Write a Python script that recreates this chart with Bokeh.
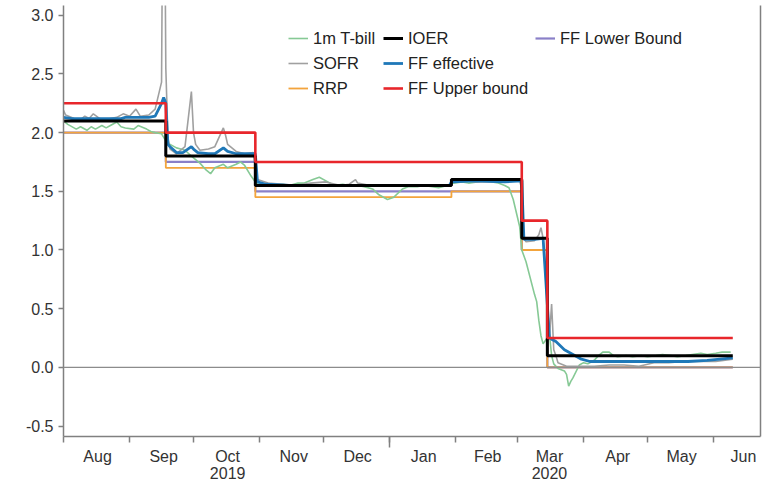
import pandas as pd
from bokeh.plotting import figure
from bokeh.models import (Range1d, LinearAxis, FixedTicker, Span, Legend,
                          LegendItem, PrintfTickFormatter)
from bokeh.embed import file_html
from bokeh.resources import INLINE

# ---------------- data ----------------
policy_dates = ["2019-08-01", "2019-09-18", "2019-10-30", "2020-01-30",
                "2020-03-03", "2020-03-15", "2020-06-10"]
ff_upper = [2.25, 2.00, 1.75, 1.75, 1.25, 0.25, 0.25]
ff_lower = [2.00, 1.75, 1.50, 1.50, 1.00, 0.00, 0.00]
ioer     = [2.10, 1.80, 1.55, 1.60, 1.10, 0.10, 0.10]
rrp      = [2.00, 1.70, 1.45, 1.50, 1.00, 0.00, 0.00]

ffe_dates = ["2019-08-01", "2019-08-05", "2019-08-09", "2019-08-14", "2019-08-19",
             "2019-08-23", "2019-08-28", "2019-08-30", "2019-09-03", "2019-09-06",
             "2019-09-10", "2019-09-13", "2019-09-16", "2019-09-17", "2019-09-18",
             "2019-09-19", "2019-09-20", "2019-09-23", "2019-09-26", "2019-09-30",
             "2019-10-01", "2019-10-03", "2019-10-08", "2019-10-11", "2019-10-15",
             "2019-10-17", "2019-10-21", "2019-10-25", "2019-10-30", "2019-10-31",
             "2019-11-04", "2019-11-15", "2019-12-02", "2019-12-16", "2019-12-31",
             "2020-01-15", "2020-01-29", "2020-01-30", "2020-02-10", "2020-02-24",
             "2020-03-03", "2020-03-04", "2020-03-09", "2020-03-13", "2020-03-16",
             "2020-03-17", "2020-03-19", "2020-03-23", "2020-03-27", "2020-03-31",
             "2020-04-04", "2020-04-15", "2020-04-27", "2020-05-08", "2020-05-20",
             "2020-05-29", "2020-06-04", "2020-06-10"]
ffe_vals = [2.13, 2.12, 2.12, 2.12, 2.12,
            2.12, 2.12, 2.13, 2.13, 2.13,
            2.13, 2.14, 2.25, 2.30, 2.25,
            1.90, 1.88, 1.83, 1.83, 1.88,
            1.86, 1.83, 1.82, 1.82, 1.87,
            1.84, 1.82, 1.82, 1.82, 1.58,
            1.56, 1.55, 1.55, 1.55, 1.55,
            1.55, 1.55, 1.58, 1.59, 1.58,
            1.59, 1.09, 1.09, 1.10, 0.25,
            0.24, 0.22, 0.15, 0.11, 0.07,
            0.05, 0.05, 0.05, 0.05, 0.05,
            0.06, 0.07, 0.08]

sofr_dates = ["2019-08-01", "2019-08-02", "2019-08-06", "2019-08-09", "2019-08-11",
              "2019-08-13", "2019-08-15", "2019-08-18", "2019-08-20", "2019-08-23",
              "2019-08-26", "2019-08-29", "2019-09-01", "2019-09-04", "2019-09-06",
              "2019-09-10", "2019-09-13", "2019-09-16", "2019-09-17", "2019-09-18",
              "2019-09-19", "2019-09-20", "2019-09-23", "2019-09-25", "2019-09-27",
              "2019-09-30", "2019-10-01", "2019-10-02", "2019-10-04", "2019-10-08",
              "2019-10-11", "2019-10-15", "2019-10-16", "2019-10-17", "2019-10-21",
              "2019-10-25", "2019-10-29", "2019-10-31", "2019-11-05", "2019-11-12",
              "2019-11-18", "2019-11-25", "2019-12-02", "2019-12-09", "2019-12-13",
              "2019-12-16", "2019-12-17", "2019-12-23", "2019-12-31", "2020-01-06",
              "2020-01-13", "2020-01-21", "2020-01-29", "2020-01-30", "2020-02-03",
              "2020-02-10", "2020-02-18", "2020-02-24", "2020-03-02", "2020-03-03",
              "2020-03-04", "2020-03-05", "2020-03-09", "2020-03-11", "2020-03-12",
              "2020-03-13", "2020-03-16", "2020-03-17", "2020-03-18", "2020-03-19",
              "2020-03-20", "2020-03-24", "2020-03-27", "2020-04-01", "2020-04-06",
              "2020-04-13", "2020-04-20", "2020-04-27", "2020-05-04", "2020-05-11",
              "2020-05-18", "2020-05-26", "2020-06-02", "2020-06-10"]
sofr_vals = [2.19, 2.15, 2.12, 2.11, 2.14,
             2.12, 2.16, 2.12, 2.11, 2.12,
             2.13, 2.16, 2.14, 2.20, 2.14,
             2.15, 2.20, 2.43, 5.25, 2.55,
             1.95, 1.86, 1.82, 1.85, 1.88,
             2.35, 2.00, 1.90, 1.85, 1.86,
             1.88, 2.04, 1.98, 1.90, 1.84,
             1.82, 1.83, 1.60, 1.57, 1.56,
             1.55, 1.57, 1.58, 1.55, 1.56,
             1.60, 1.57, 1.55, 1.55, 1.55,
             1.55, 1.55, 1.55, 1.58, 1.60,
             1.58, 1.58, 1.58, 1.59, 1.52,
             1.10, 1.07, 1.08, 1.13, 1.19,
             1.10, 0.26, 0.54, 0.15, 0.10,
             0.04, 0.01, 0.01, 0.01, 0.01,
             0.02, 0.02, 0.01, 0.04, 0.04,
             0.05, 0.05, 0.05, 0.07]

tbill_dates = ["2019-08-01", "2019-08-03", "2019-08-07", "2019-08-09", "2019-08-12",
               "2019-08-14", "2019-08-16", "2019-08-19", "2019-08-21", "2019-08-23",
               "2019-08-26", "2019-08-28", "2019-08-30", "2019-09-03", "2019-09-05",
               "2019-09-09", "2019-09-11", "2019-09-13", "2019-09-16", "2019-09-18",
               "2019-09-20", "2019-09-23", "2019-09-25", "2019-09-27", "2019-09-30",
               "2019-10-02", "2019-10-04", "2019-10-07", "2019-10-09", "2019-10-11",
               "2019-10-15", "2019-10-17", "2019-10-21", "2019-10-23", "2019-10-25",
               "2019-10-28", "2019-10-30", "2019-11-01", "2019-11-05", "2019-11-08",
               "2019-11-12", "2019-11-15", "2019-11-19", "2019-11-22", "2019-11-26",
               "2019-11-29", "2019-12-03", "2019-12-06", "2019-12-10", "2019-12-13",
               "2019-12-17", "2019-12-20", "2019-12-24", "2019-12-27", "2019-12-31",
               "2020-01-03", "2020-01-07", "2020-01-10", "2020-01-14", "2020-01-17",
               "2020-01-21", "2020-01-24", "2020-01-28", "2020-01-31", "2020-02-04",
               "2020-02-07", "2020-02-11", "2020-02-14", "2020-02-18", "2020-02-21",
               "2020-02-24", "2020-02-26", "2020-02-28", "2020-03-02", "2020-03-03",
               "2020-03-05", "2020-03-09", "2020-03-10", "2020-03-11", "2020-03-12",
               "2020-03-13", "2020-03-16", "2020-03-17", "2020-03-18", "2020-03-20",
               "2020-03-23", "2020-03-24", "2020-03-25", "2020-03-26", "2020-03-27",
               "2020-03-30", "2020-04-01", "2020-04-03", "2020-04-06", "2020-04-08",
               "2020-04-10", "2020-04-13", "2020-04-15", "2020-04-17", "2020-04-21",
               "2020-04-24", "2020-04-28", "2020-05-01", "2020-05-05", "2020-05-08",
               "2020-05-12", "2020-05-15", "2020-05-19", "2020-05-22", "2020-05-26",
               "2020-05-29", "2020-06-02", "2020-06-05", "2020-06-09"]
tbill_vals = [2.10, 2.07, 2.03, 2.05, 2.02,
              2.05, 2.03, 2.06, 2.04, 2.06,
              2.09, 2.05, 2.04, 2.03, 2.06,
              2.03, 2.01, 2.00, 1.99, 1.93,
              1.90, 1.87, 1.86, 1.85, 1.80,
              1.77, 1.74, 1.68, 1.65, 1.70,
              1.73, 1.70, 1.73, 1.75, 1.72,
              1.63, 1.58, 1.55, 1.55, 1.56,
              1.56, 1.55, 1.57, 1.57, 1.60,
              1.62, 1.58, 1.55, 1.56, 1.55,
              1.55, 1.54, 1.52, 1.47, 1.43,
              1.45, 1.52, 1.54, 1.54, 1.55,
              1.54, 1.53, 1.55, 1.57, 1.58,
              1.57, 1.58, 1.59, 1.58, 1.57,
              1.55, 1.53, 1.43, 1.20, 1.00,
              0.90, 0.62, 0.56, 0.40, 0.27,
              0.20, 0.28, 0.10, 0.03, -0.01,
              -0.03, -0.06, -0.16, -0.12, -0.09,
              0.02, 0.04, 0.03, 0.06, 0.10,
              0.13, 0.13, 0.10, 0.09, 0.10,
              0.09, 0.10, 0.09, 0.10, 0.11,
              0.10, 0.09, 0.10, 0.11, 0.12,
              0.11, 0.12, 0.13, 0.13]

month_starts = ["2019-08-01", "2019-09-01", "2019-10-01", "2019-11-01", "2019-12-01",
                "2020-01-01", "2020-02-01", "2020-03-01", "2020-04-01", "2020-05-01",
                "2020-06-01"]
year_start = ["2020-01-01"]
label_dates = ["2019-08-17", "2019-09-17", "2019-10-17", "2019-11-17", "2019-12-17",
               "2020-01-17", "2020-02-16", "2020-03-16", "2020-04-17", "2020-05-17",
               "2020-06-15"]
month_labels = ["Aug", "Sep", "Oct\n2019", "Nov", "Dec", "Jan", "Feb", "Mar\n2020",
                "Apr", "May", "Jun"]
y_ticks = [-0.5, 0.0, 0.5, 1.0, 1.5, 2.0, 2.5, 3.0]

x_start, x_end = "2019-08-01", "2020-06-23"
y_min, y_max = -0.589, 3.083

# ---------------- helpers ----------------
origin = pd.Timestamp(x_start)


def days(ds):
    return [int((pd.Timestamp(d) - origin).days) for d in ds]


FONT = "Liberation Sans"
AXIS_GREY = "#808080"
TEXT = "#333333"

p = figure(width=766, height=484, output_backend="svg", toolbar_location=None,
           x_axis_type=None, x_range=Range1d(0, days([x_end])[0]),
           y_range=Range1d(y_min, y_max),
           min_border_left=63, min_border_right=6, min_border_top=5,
           min_border_bottom=0)
p.grid.visible = False
p.outline_line_color = None
p.background_fill_color = "white"

# y axis
ya = p.yaxis[0]
ya.ticker = FixedTicker(ticks=y_ticks)
ya.formatter = PrintfTickFormatter(format="%.1f")
ya.major_tick_out = 5
ya.major_tick_in = 0
ya.minor_tick_line_color = None
ya.axis_line_color = AXIS_GREY
ya.axis_line_width = 1.5
ya.major_tick_line_color = AXIS_GREY
ya.major_tick_line_width = 1.5
ya.major_label_text_font = FONT
ya.major_label_text_font_size = "16px"
ya.major_label_text_color = TEXT
ya.major_label_standoff = 5

# x axis: ticks at month boundaries, longer tick at the year boundary
axA = LinearAxis(ticker=FixedTicker(ticks=days(year_start), minor_ticks=days(month_starts)),
                 major_tick_out=11, major_tick_in=0, minor_tick_out=6, minor_tick_in=0,
                 major_label_text_font_size="0px", major_label_standoff=0,
                 axis_line_color=AXIS_GREY, axis_line_width=1.5,
                 major_tick_line_color=AXIS_GREY, minor_tick_line_color=AXIS_GREY,
                 major_tick_line_width=1.5, minor_tick_line_width=1.5,
                 major_label_overrides={d: "" for d in days(year_start)})
p.add_layout(axA, "below")

label_pos = days(label_dates)
axB = LinearAxis(ticker=FixedTicker(ticks=label_pos, minor_ticks=[]),
                 major_label_overrides={d: lab for d, lab in zip(label_pos, month_labels)},
                 axis_line_color=None, major_tick_line_color=None,
                 minor_tick_line_color=None, major_tick_out=0, major_tick_in=0,
                 major_label_standoff=0, major_label_text_font=FONT,
                 major_label_text_font_size="16px", major_label_text_color=TEXT,
                 major_label_text_line_height=1.0)
p.add_layout(axB, "below")

# right border
axR = LinearAxis(ticker=FixedTicker(ticks=[]), axis_line_color=AXIS_GREY,
                 axis_line_width=1.5, major_tick_line_color=None,
                 minor_tick_line_color=None, major_label_text_font_size="0px",
                 major_label_standoff=0)
p.add_layout(axR, "right")

# zero line
p.add_layout(Span(location=0, dimension="width", line_color="#8c8c8c", line_width=1.2))

pd_x = days(policy_dates)
r_lower = p.step(pd_x, ff_lower, mode="after", line_color="#8a80c8", line_width=2.2)
r_rrp = p.step(pd_x, rrp, mode="after", line_color="#f3a43c", line_width=1.8)
r_tbill = p.line(days(tbill_dates), tbill_vals, line_color="#86c995", line_width=1.6)
r_sofr = p.line(days(sofr_dates), sofr_vals, line_color="#a0a0a0", line_width=1.6)
r_ffe = p.line(days(ffe_dates), ffe_vals, line_color="#1f78b8", line_width=2.8)
r_ioer = p.step(pd_x, ioer, mode="after", line_color="#000000", line_width=3)
r_upper = p.step(pd_x, ff_upper, mode="after", line_color="#e8262b", line_width=2.6)


def make_legend(items, x, y):
    lg = Legend(items=[LegendItem(label=l, renderers=[r]) for l, r in items],
                location=(x, y), orientation="vertical",
                label_text_font=FONT, label_text_font_size="16.5px",
                label_text_color="#222222", glyph_width=20, glyph_height=20,
                label_height=20, spacing=5, padding=0, margin=0, label_standoff=5,
                border_line_color=None, background_fill_alpha=0)
    p.add_layout(lg, "center")


make_legend([("1m T-bill", r_tbill), ("SOFR", r_sofr), ("RRP", r_rrp)], 225, 338)
make_legend([("IOER", r_ioer), ("FF effective", r_ffe), ("FF Upper bound", r_upper)], 320, 338)
make_legend([("FF Lower Bound", r_lower)], 472, 388)

open("out.html", "w").write(file_html(p, INLINE))
